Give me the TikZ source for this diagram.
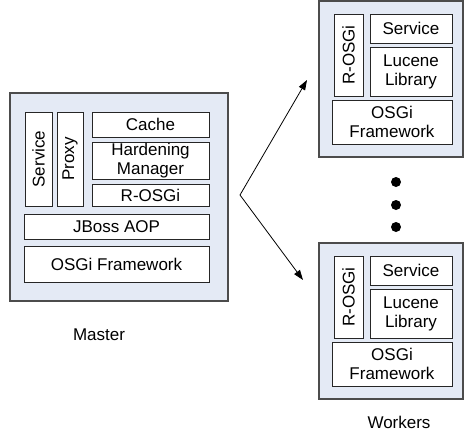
\documentclass[tikz,border=0pt]{standalone}
\usepackage{fontspec}
\setmainfont{Liberation Sans}
\usetikzlibrary{arrows.meta}
\definecolor{panelblue}{RGB}{228,234,245}
\begin{document}
\begin{tikzpicture}[x=1pt,y=-1pt,
	every node/.style={font=\fontsize{17}{19}\selectfont,align=center,inner sep=0pt},
	panel/.style={draw=black!70,fill=panelblue,line width=1.2pt},
	layer/.style={draw=black!85,fill=white,line width=0.8pt},
	link/.style={line width=0.8pt,-{Triangle[length=10pt,width=7pt]}}]
	\useasboundingbox (0,0) rectangle (467,432);
	% master
	\node[panel,minimum width=218pt,minimum height=208pt] (master) at (119,197) {};
	\node[layer,rotate=90,minimum width=94pt,minimum height=27pt] (service) at (38.5,159) {Service};
	\node[layer,rotate=90,minimum width=94pt,minimum height=26pt] (proxy) at (70,159) {Proxy};
	\node[layer,minimum width=117pt,minimum height=25pt] (cache) at (150.5,124.5) {Cache};
	\node[layer,minimum width=117pt,minimum height=37pt] (harden) at (150.5,160.5) {Hardening\\Manager};
	\node[layer,minimum width=117pt,minimum height=22pt] (rosgi) at (150.5,195) {R-OSGi};
	\node[layer,minimum width=185pt,minimum height=25pt] (jboss) at (116.5,226.5) {JBoss AOP};
	\node[layer,minimum width=185pt,minimum height=36pt] (osgi) at (116.5,264) {OSGi Framework};
	\node (masterlabel) at (99,335) {Master};
	% workers
	\foreach \w/\dy in {wa/0,wb/242} {
		\node[panel,minimum width=144pt,minimum height=156pt] (\w) at (391,79+\dy) {};
		\node[layer,rotate=90,minimum width=82pt,minimum height=29pt] (\w-rosgi) at (348.5,55+\dy) {R-OSGi};
		\node[layer,minimum width=82pt,minimum height=29pt] (\w-service) at (411,28.5+\dy) {Service};
		\node[layer,minimum width=82pt,minimum height=49pt] (\w-lucene) at (411,71.5+\dy) {Lucene\\Library};
		\node[layer,minimum width=120pt,minimum height=44pt] (\w-osgi) at (392,122+\dy) {OSGi\\Framework};
	}
	\node (workerlabel) at (399,422) {Workers};
	% dots
	\foreach \y in {182,205,227}
		\fill (396,\y) circle (5pt);
	% links
	\coordinate (fork) at (240,195);
	\coordinate (tipa) at (307,80);
	\coordinate (tipb) at (303,280);
	\draw[link] (fork) -- (tipa);
	\draw[link] (fork) -- (tipb);
\end{tikzpicture}
\end{document}
